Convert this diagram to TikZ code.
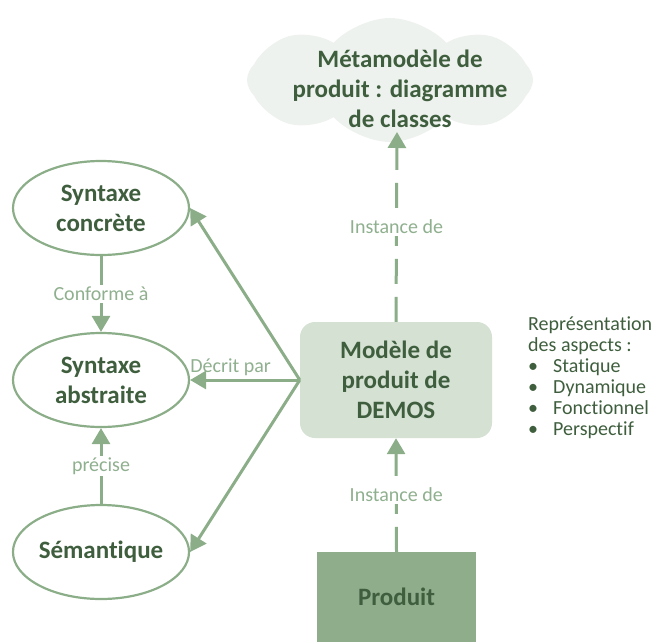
\documentclass[tikz,border=0pt]{standalone}
\usepackage{fontspec}
\setmainfont[Ligatures=NoCommon]{Carlito}
\usetikzlibrary{arrows.meta,shapes.symbols,shapes.geometric}
\definecolor{lineg}{RGB}{139,174,137}
\definecolor{darkg}{RGB}{62,94,61}
\definecolor{labg}{RGB}{143,176,142}
\definecolor{modelg}{RGB}{213,225,211}
\definecolor{prodg}{RGB}{143,172,139}
\definecolor{cloudg}{RGB}{238,242,238}
\begin{document}
\begin{tikzpicture}[x=1pt,y=-1pt,
  ell/.style={ellipse, draw=lineg, line width=2.2pt, minimum width=176pt, minimum height=94pt, inner sep=0pt,
    font=\fontsize{25}{30}\selectfont\bfseries, text=darkg, align=center},
  boldtxt/.style={font=\fontsize{25}{30}\selectfont\bfseries, text=darkg, align=center},
  conn/.style={draw=lineg, line width=3pt, -{Triangle[length=16pt,width=18pt]}},
  dashconn/.style={conn, dash pattern=on 25pt off 13pt},
  lab/.style={font=\fontsize{20}{22}\selectfont, text=labg, fill=white, inner sep=2pt},
  side/.style={font=\fontsize{20}{21}\selectfont, text=darkg, anchor=base west, inner sep=0pt}]
\useasboundingbox (0,0) rectangle (652,642);
% cloud
\node[cloud, fill=cloudg, cloud puffs=8, cloud puff arc=95, aspect=2.4,
  minimum width=286pt, minimum height=124pt, inner sep=0pt] (cloud) at (390,80) {};
\node[boldtxt] (meta) at (400,89) {Métamodèle de\\produit : diagramme\\de classes};
\coordinate (metatip) at (397,132);
% ellipses
\node[ell] (conc) at (101,208) {Syntaxe\\concrète};
\node[ell] (abs) at (101,380) {Syntaxe\\abstraite};
\node[ell] (sem) at (101,552) {Sémantique};
% model box
\node[rectangle, rounded corners=15pt, fill=modelg, minimum width=192pt, minimum height=116pt,
  boldtxt] (model) at (396,380) {Modèle de\\produit de\\DEMOS};
% produit box
\node[rectangle, fill=prodg, minimum width=159pt, minimum height=90pt, boldtxt] (prod) at (396.5,597) {Produit};
% connectors
\draw[conn] (conc.south) -- node[lab]{Conforme à} (abs.north);
\draw[conn] (sem.north) -- node[lab]{précise} (abs.south);
\draw[conn] (model.west) -- (conc.east);
\draw[conn] (model.west) -- node[lab, pos=0.63, above=1pt, fill=none]{Décrit par} (abs.east);
\draw[conn] (model.west) -- (sem.east);
\draw[dashconn] (model.north) -- node[lab]{Instance de} (metatip);
\draw[dashconn] (prod.north) -- node[lab]{Instance de} (model.south);
% side text
\node[side] (r1) at (528,330) {Représentation};
\node[side] (r2) at (528,351) {des aspects :};
\foreach \t [count=\i] in {Statique,Dynamique,Fonctionnel,Perspectif}{
  \node[side] (b\i) at (528,351+21*\i) {•};
  \node[side] (t\i) at (553,351+21*\i) {\t};
}
\end{tikzpicture}
\end{document}
